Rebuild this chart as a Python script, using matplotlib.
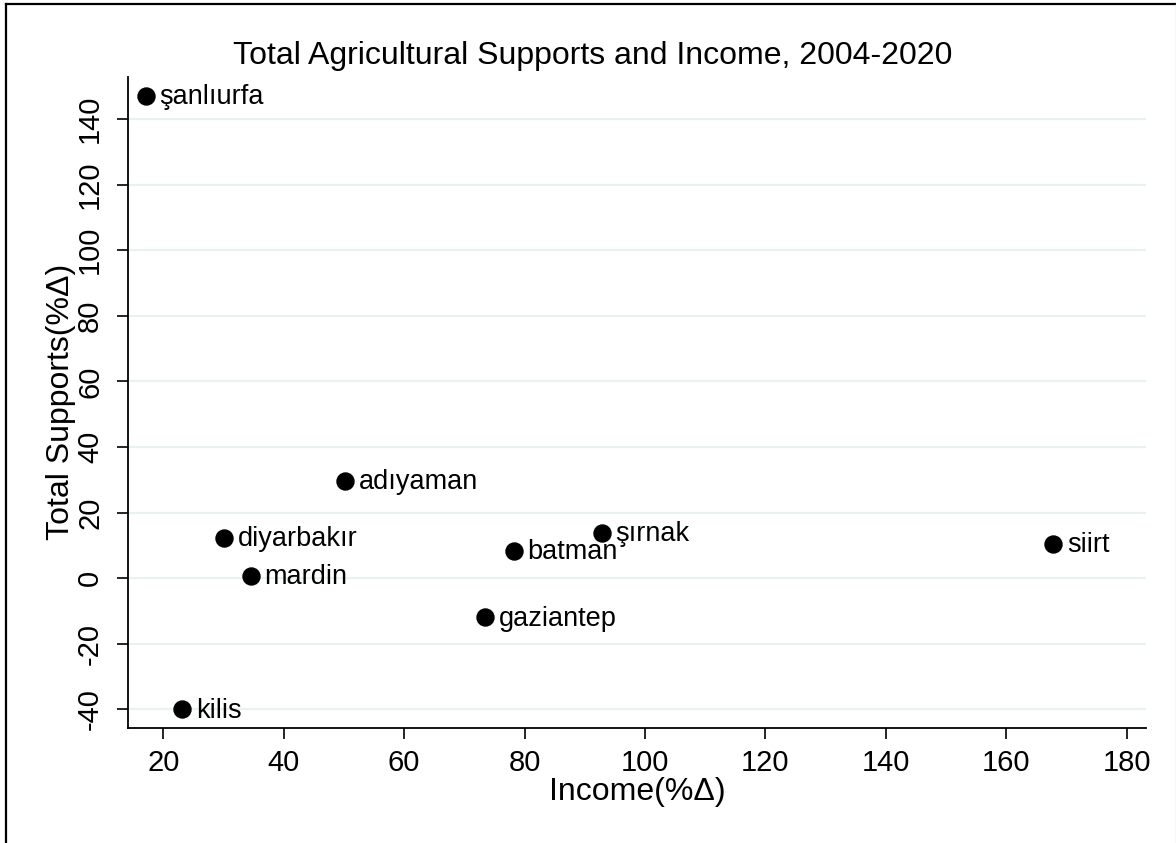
import matplotlib.pyplot as plt
from matplotlib.lines import Line2D

plt.rcParams['font.family'] = ['Liberation Sans', 'DejaVu Sans']
plt.rcParams['axes.unicode_minus'] = False

# province-level % change, 2004-2020
provinces = ['şanlıurfa', 'adıyaman', 'diyarbakır', 'mardin', 'kilis',
             'gaziantep', 'batman', 'şırnak', 'siirt']
income = [17.1, 50.1, 30.1, 34.5, 23.1, 73.5, 78.2, 92.8, 167.8]
supports = [147.1, 29.7, 12.3, 0.7, -40.0, -12.0, 8.3, 13.9, 10.4]

xticks = [20, 40, 60, 80, 100, 120, 140, 160, 180]
yticks = [-40, -20, 0, 20, 40, 60, 80, 100, 120, 140]

fig = plt.figure(figsize=(11.76, 8.43), dpi=100)
ax = fig.add_axes([0.1086, 0.1368, 0.9745 - 0.1086, 0.909 - 0.1368])

ax.scatter(income, supports, s=150, color='black', zorder=3)
for name, x, y in zip(provinces, income, supports):
    ax.annotate(name, (x, y), xytext=(10, -1), textcoords='offset points',
                va='center', ha='left', fontsize=19.5, zorder=4)

ax.set_xlim(14.1, 183.2)
ax.set_ylim(-45.6, 152.9)
ax.set_xticks(xticks)
ax.set_yticks(yticks)
ax.tick_params(axis='both', labelsize=21, length=8, width=1.2)
ax.tick_params(axis='x', pad=7)
ax.tick_params(axis='y', pad=9)
plt.setp(ax.get_yticklabels(), rotation=90, va='center')

ax.grid(axis='y', color='#eaf1f3', linewidth=1.6, zorder=0)
ax.set_axisbelow(True)
for side in ['top', 'right']:
    ax.spines[side].set_visible(False)
for side in ['left', 'bottom']:
    ax.spines[side].set_linewidth(1.3)

ax.set_xlabel('Income(%Δ)', fontsize=23, labelpad=0)
ax.set_ylabel('Total Supports(%Δ)', fontsize=23, labelpad=0)
ax.set_title('Total Agricultural Supports and Income, 2004-2020',
             fontsize=23, x=0.457, pad=9)

# outer frame edges
fig.add_artist(Line2D([5.5 / 1176, 1], [1 - 3.5 / 843, 1 - 3.5 / 843],
                      transform=fig.transFigure, color='black', linewidth=1.6))
fig.add_artist(Line2D([5.5 / 1176, 5.5 / 1176], [0, 1 - 3.5 / 843],
                      transform=fig.transFigure, color='black', linewidth=1.6))
fig.add_artist(Line2D([1175.5 / 1176, 1175.5 / 1176], [0, 1 - 3.5 / 843],
                      transform=fig.transFigure, color='#d8d8d8', linewidth=1))

fig.savefig('out.png', dpi=100)
